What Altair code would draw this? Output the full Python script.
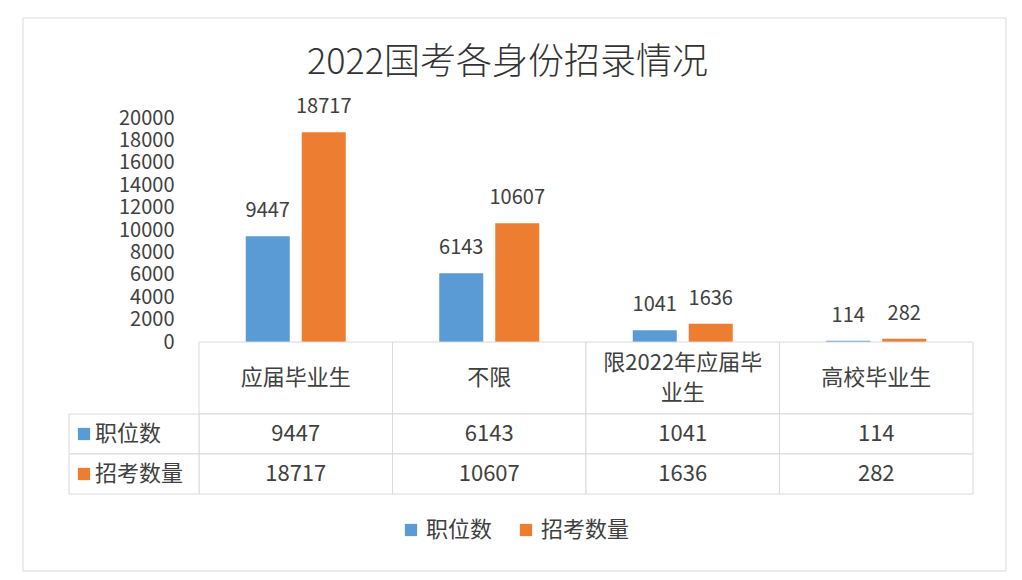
import altair as alt
import pandas as pd

categories = ["应届毕业生", "不限", "限2022年应届毕业生", "高校毕业生"]
category_labels = ["应届毕业生", "不限", "限2022年应届毕\n业生", "高校毕业生"]
series = ["职位数", "招考数量"]
positions = [9447, 6143, 1041, 114]
applicants = [18717, 10607, 1636, 282]
colors = ["#5B9BD5", "#ED7D31"]
y_ticks = list(range(0, 20001, 2000))

FONT = "Noto Sans CJK SC"
TEXT = "#404040"
GRID = "#d9d9d9"

rows = []
for c, p, a in zip(categories, positions, applicants):
    rows.append({"category": c, "series": series[0], "value": p})
    rows.append({"category": c, "series": series[1], "value": a})
df = pd.DataFrame(rows)
head = pd.DataFrame({"category": categories, "label": category_labels,
                     "lines": [lab.count("\n") + 1 for lab in category_labels]})
ser = pd.DataFrame({"series": series})
one = pd.DataFrame({"frame": [0]})

W = 774

x_cat = alt.X("category:N", sort=categories,
              scale=alt.Scale(paddingInner=0, paddingOuter=0), axis=None)
x_off = alt.XOffset("series:N", sort=series,
                    scale=alt.Scale(paddingInner=0.214, paddingOuter=0.835))
color_scale = alt.Scale(domain=series, range=colors)
y_axis = alt.Axis(values=y_ticks, domain=False, ticks=False, grid=False,
                  labelPadding=25, labelFontSize=20, labelColor=TEXT,
                  labelFont=FONT, title=None, format="d",
                  labelOverlap=False)
y_val = alt.Y("value:Q", scale=alt.Scale(domain=[0, 20000], nice=False), axis=y_axis)

bars = alt.Chart(df).mark_bar().encode(
    x=x_cat,
    xOffset=x_off,
    y=y_val,
    color=alt.Color("series:N", sort=series, scale=color_scale,
                    legend=alt.Legend(orient="none", direction="horizontal",
                                      legendX=201, legendY=401, title=None,
                                      symbolType="square", symbolSize=150,
                                      symbolStrokeWidth=0, labelFontSize=22,
                                      labelFont=FONT, labelColor=TEXT,
                                      labelOffset=4, columnPadding=22)),
)
bar_labels = alt.Chart(df).mark_text(baseline="middle", dy=-25, fontSize=20,
                                     font=FONT, color=TEXT).encode(
    x=x_cat,
    xOffset=x_off,
    y=y_val,
    text=alt.Text("value:Q", format="d"),
)
frame = alt.Chart(one).mark_rect(filled=False, stroke=GRID, strokeWidth=1).encode(
    x=alt.value(-176), x2=alt.value(807), y=alt.value(-100), y2=alt.value(453))
top = alt.layer(frame, bars, bar_labels).properties(width=W, height=224)

header_cells = alt.Chart(head).mark_rect(fill="white", stroke=GRID, strokeWidth=1).encode(x=x_cat)
header_text1 = alt.Chart(head).transform_filter("datum.lines == 1").mark_text(
    fontSize=22, font=FONT, color=TEXT, baseline="middle").encode(x=x_cat, text="label:N")
header_text2 = alt.Chart(head).transform_filter("datum.lines == 2").mark_text(
    fontSize=22, font=FONT, color=TEXT, baseline="middle", lineBreak="\n",
    lineHeight=30, dy=-15).encode(x=x_cat, text="label:N")
header = alt.layer(header_cells, header_text1, header_text2).properties(width=W, height=72)

y_row = alt.Y("series:N", sort=series, axis=None,
              scale=alt.Scale(paddingInner=0, paddingOuter=0))
cells = alt.Chart(df).mark_rect(fill="white", stroke=GRID, strokeWidth=1).encode(x=x_cat, y=y_row)
cell_text = alt.Chart(df).mark_text(fontSize=22, font=FONT, color=TEXT).encode(
    x=x_cat, y=y_row, text=alt.Text("value:Q", format="d"))
label_box = alt.Chart(ser).mark_rect(fill="white", stroke=GRID, strokeWidth=1).encode(
    x=alt.value(-130), x2=alt.value(0), y=y_row)
label_sq = alt.Chart(ser).mark_square(size=150, opacity=1).encode(
    x=alt.value(-115), y=y_row,
    color=alt.Color("series:N", sort=series, scale=color_scale, legend=None))
label_text = alt.Chart(ser).mark_text(align="left", fontSize=22, font=FONT, color=TEXT).encode(
    x=alt.value(-104), y=y_row, text="series:N")
table = alt.layer(cells, cell_text, label_box, label_sq, label_text).properties(width=W, height=80)

chart = alt.vconcat(top, header, table, spacing=0, bounds="flush").properties(
    title=alt.TitleParams("2022国考各身份招录情况", fontSize=36, font=FONT,
                          color="#333333", fontWeight=300, anchor="middle",
                          offset=-64, dx=-7),
    padding={"left": 14, "top": 9, "right": 5, "bottom": 5},
    background="white",
).configure_view(strokeWidth=0).configure_axis(labelOverlap=False)

chart.save("out.html", embed_options={"renderer": "svg", "actions": False})
